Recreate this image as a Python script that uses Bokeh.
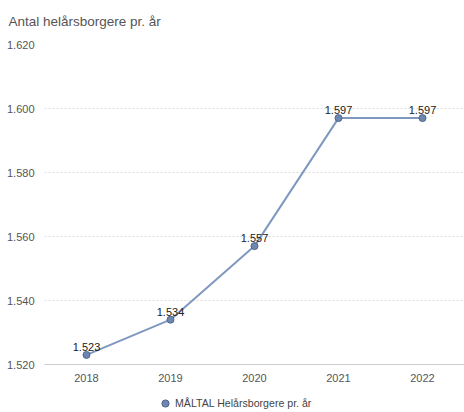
from bokeh.plotting import figure
from bokeh.layouts import column
from bokeh.models import ColumnDataSource, FixedTicker, Range1d, Legend, LegendItem
from bokeh.embed import file_html
from bokeh.resources import INLINE

years = [2018, 2019, 2020, 2021, 2022]
values = [1523, 1534, 1557, 1597, 1597]
y_ticks = [1520, 1540, 1560, 1580, 1600, 1620]
series_name = "MÅLTAL Helårsborgere pr. år"
title_text = "Antal helårsborgere pr. år"

def dk(v):
    s = f"{v:,}"
    return s.replace(",", ".")

labels = [dk(v) for v in values]
src = ColumnDataSource(dict(x=years, y=values, lab=labels))

FONT = "Liberation Sans"
LINE_COLOR = "#7f98bf"
PT_FILL = "#6d87b0"
PT_LINE = "#50678c"

p = figure(width=464, height=394, output_backend="svg", toolbar_location=None,
           x_range=Range1d(years[0] - 0.5, years[-1] + 0.5),
           y_range=Range1d(y_ticks[0], y_ticks[-1]),
           min_border_left=44, min_border_right=0, min_border_top=44, min_border_bottom=30)
p.outline_line_color = None
p.background_fill_color = "white"

p.title.text = title_text
p.title.text_font = FONT
p.title.text_font_size = "13.5px"
p.title.text_font_style = "normal"
p.title.text_color = "#555555"
p.title.offset = -36
p.title.standoff = 27
p.title.vertical_align = "top"

p.line("x", "y", source=src, line_color=LINE_COLOR, line_width=2)
p.scatter("x", "y", source=src, size=7, fill_color=PT_FILL, line_color=PT_LINE, line_width=1)
p.text("x", "y", text="lab", source=src, text_font={"value": FONT}, text_font_size="11px",
       text_color="#222222", text_align="center", text_baseline="bottom", y_offset=-4)

p.xaxis.ticker = FixedTicker(ticks=years)
p.xaxis.major_label_overrides = {y: str(y) for y in years}
p.xaxis.axis_line_color = "#cccccc"
p.xaxis.major_tick_line_color = None
p.xaxis.minor_tick_line_color = None
p.xaxis.major_label_text_font = FONT
p.xaxis.major_label_text_font_size = "11px"
p.xaxis.major_label_text_color = "#555555"
p.xaxis.major_label_standoff = 3

p.yaxis.ticker = FixedTicker(ticks=y_ticks)
p.yaxis.major_label_overrides = {t: dk(t) for t in y_ticks}
p.yaxis.axis_line_color = None
p.yaxis.major_tick_line_color = None
p.yaxis.minor_tick_line_color = None
p.yaxis.major_label_text_font = FONT
p.yaxis.major_label_text_font_size = "11px"
p.yaxis.major_label_text_color = "#555555"
p.yaxis.major_label_standoff = 4

p.xgrid.grid_line_color = None
p.ygrid.grid_line_color = "#dddddd"
p.ygrid.grid_line_dash = "2 2"

# legend strip below the chart (its own view range keeps the series out of sight)
lf = figure(width=464, height=18, output_backend="svg", toolbar_location=None,
            x_axis_type=None, y_axis_type=None,
            x_range=Range1d(0, 1), y_range=Range1d(0, 1),
            min_border_left=0, min_border_right=0, min_border_top=0, min_border_bottom=0)
lf.outline_line_color = None
lf.xgrid.grid_line_color = None
lf.ygrid.grid_line_color = None
r_leg = lf.scatter("x", "y", source=src, size=7, fill_color=PT_FILL, line_color=PT_LINE, line_width=1)
legend = Legend(items=[LegendItem(label=series_name, renderers=[r_leg])],
                location=(111, 0), orientation="horizontal",
                label_text_font=FONT, label_text_font_size="10.6px", label_text_color="#444444",
                border_line_color=None, background_fill_alpha=0,
                glyph_width=20, glyph_height=18, label_standoff=0, padding=0, margin=0,
                label_height=18)
lf.add_layout(legend, "center")

layout = column(p, lf, spacing=0)
open("out.html", "w").write(file_html(layout, INLINE))
